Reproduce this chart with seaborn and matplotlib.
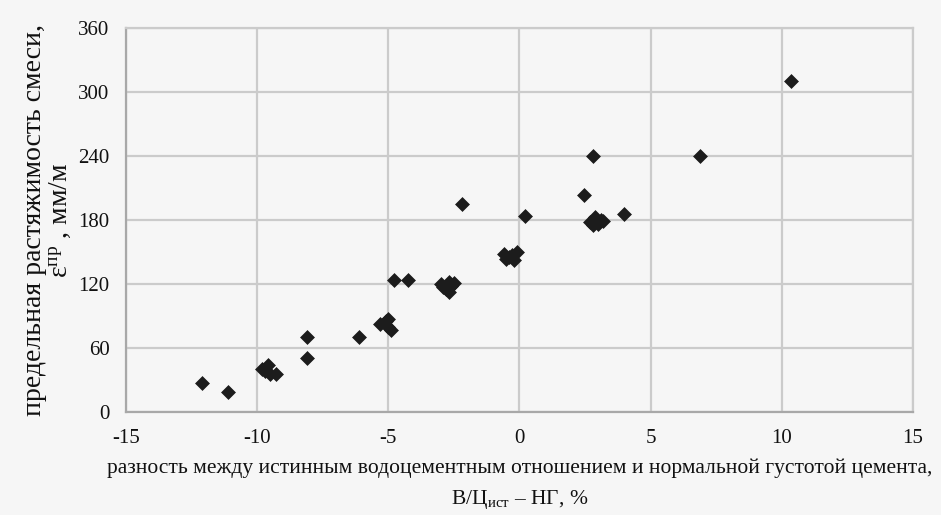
import matplotlib
matplotlib.use("Agg")
import matplotlib.pyplot as plt
import seaborn as sns
import pandas as pd

# разность В/Цист - НГ, %
x_vals = [-12.1, -11.1,
          -9.8, -9.6, -9.5, -9.3, -9.7,
          -8.1, -8.1, -6.1,
          -5.3, -5.1, -5.0, -4.9, -5.0,
          -4.8, -4.25,
          -3.0, -2.7, -2.8, -2.6, -2.9, -2.5, -2.7,
          -2.2, 0.2,
          -0.6, -0.4, -0.2, -0.1, -0.3, -0.5,
          2.8, 2.45, 4.0,
          2.7, 2.9, 3.0, 3.1, 2.8, 3.2,
          6.9, 10.35]
# предельная растяжимость, мм/м
y_vals = [27, 19,
          40, 44, 36, 36, 38,
          70, 51, 70,
          82, 85, 80, 77, 87,
          124, 124,
          120, 122, 115, 118, 117, 121, 112,
          195, 184,
          148, 145, 142, 150, 147, 143,
          240, 203, 186,
          178, 183, 176, 180, 175, 179,
          240, 310]

x_ticks = [-15, -10, -5, 0, 5, 10, 15]
y_ticks = [0, 60, 120, 180, 240, 300, 360]

df = pd.DataFrame({"x": x_vals, "y": y_vals})

sns.set_style("whitegrid")
plt.rcParams["font.family"] = ["Liberation Serif", "DejaVu Serif"]
plt.rcParams["mathtext.fontset"] = "custom"
plt.rcParams["mathtext.rm"] = "Liberation Serif"
plt.rcParams["mathtext.it"] = "Liberation Serif:italic"
plt.rcParams["axes.unicode_minus"] = False

bg = "#f6f6f6"
txt = "#111111"
fig = plt.figure(figsize=(9.41, 5.15), dpi=100, facecolor=bg)
ax = fig.add_axes([0.134, 0.2, 0.836, 0.746])
ax.set_facecolor(bg)

sns.scatterplot(data=df, x="x", y="y", marker="D", s=50, color="#1c1c1c",
                edgecolor="#1c1c1c", linewidth=0.5, ax=ax, zorder=3)

ax.set_xlim(-15, 15)
ax.set_ylim(0, 360)
ax.set_xticks(x_ticks)
ax.set_yticks(y_ticks)
ax.grid(True, color="#cbcbcb", linewidth=1.6)
for s in ax.spines.values():
    s.set_color("#cbcbcb")
    s.set_linewidth(1.6)
ax.spines["left"].set_color("#a8a8a8")
ax.spines["bottom"].set_color("#a8a8a8")
ax.tick_params(length=0, labelsize=15, pad=12, colors=txt)

ax.set_xlabel("разность между истинным водоцементным отношением и нормальной густотой цемента,\n"
              r"В/Ц$_{\mathrm{ист}}$ – НГ, %", fontsize=15.5, linespacing=1.6,
              labelpad=8, color=txt)
ax.set_ylabel("предельная растяжимость смеси,\n" r"ε$^{\mathrm{пр}}$ , мм/м",
              fontsize=20, linespacing=1.0, labelpad=4, color=txt)

fig.savefig("out.png", dpi=100, facecolor=bg)
